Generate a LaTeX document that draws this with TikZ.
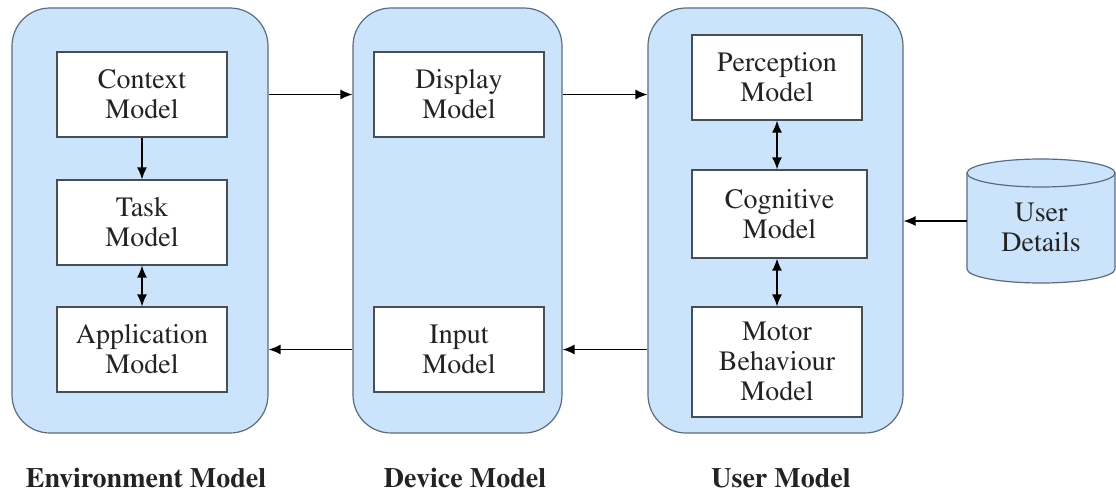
\documentclass[tikz,border=0pt]{standalone}
\usepackage[T1]{fontenc}
\usepackage{mathptmx}
\usetikzlibrary{arrows.meta}

\definecolor{panelblue}{RGB}{204,228,251}
\definecolor{paneledge}{RGB}{92,108,128}
\definecolor{boxedge}{RGB}{70,78,88}
\definecolor{inkgray}{RGB}{35,35,35}

\tikzset{
  panel/.style={draw=paneledge, line width=1.2pt, fill=panelblue,
    rounded corners=38pt, minimum height=425pt, inner sep=0pt},
  modelbox/.style={draw=boxedge, line width=1.2pt, fill=white,
    minimum width=170pt, minimum height=85pt, inner sep=0pt,
    align=center, text=inkgray, font=\rmfamily\fontsize{28}{30}\selectfont},
  caption/.style={font=\rmfamily\bfseries\fontsize{28}{30}\selectfont, text=inkgray,
    inner sep=0pt},
  arr/.style={line width=1.4pt, draw=black, -{Latex[length=12pt,width=10pt]}},
  biarr/.style={line width=1.4pt, draw=black,
    {Latex[length=12pt,width=10pt]}-{Latex[length=12pt,width=10pt]}},
}

\begin{document}
\begin{tikzpicture}[x=1pt,y=1pt]
\useasboundingbox (0,0) rectangle (1116,-496);

% three rounded panels
\node[panel, minimum width=256pt] (env) at (140,-220.5) {};
\node[panel, minimum width=209pt] (dev) at (457.5,-220.5) {};
\node[panel, minimum width=255pt] (usr) at (775.5,-220.5) {};

% environment model
\node[modelbox] (ctx)  at (142,-94.5)  {Context\\Model};
\node[modelbox] (task) at (142,-222.5) {Task\\Model};
\node[modelbox] (app)  at (142,-349.5) {Application\\Model};

% device model
\node[modelbox] (disp) at (459,-94.5)  {Display\\Model};
\node[modelbox] (inp)  at (459,-349.5) {Input\\Model};

% user model
\node[modelbox] (perc)  at (777,-77.5) {Perception\\Model};
\node[modelbox, minimum width=175pt, minimum height=88pt] (cog) at (779.5,-214) {Cognitive\\Model};
\node[modelbox, minimum height=110pt] (motor) at (777,-362) {Motor\\Behaviour\\Model};

% user details store (cylinder)
\node[minimum width=148pt, minimum height=124pt, inner sep=0pt]
      (ud) at (1041,-221) {};
\filldraw[draw=paneledge, line width=1.2pt, fill=panelblue]
  (967,-173) -- (967,-269)
  arc[start angle=180, end angle=360, x radius=74, y radius=14]
  -- (1115,-173) -- cycle;
\filldraw[draw=paneledge, line width=1.2pt, fill=panelblue]
  (1041,-173) ellipse[x radius=74, y radius=14];
\node[align=center, text=inkgray, font=\rmfamily\fontsize{28}{30}\selectfont]
  (udtext) at (1041,-228) {User\\Details};

% captions
\node[caption] (envcap) at (146,-478) {Environment Model};
\node[caption] (devcap) at (465,-478) {Device Model};
\node[caption] (usrcap) at (781,-478) {User Model};

% connectors inside panels
\draw[arr]   (ctx.south) -- (task.north);
\draw[biarr] (task.south) -- (app.north);
\draw[biarr] (perc.south) -- (perc.south |- cog.north);
\draw[biarr] (perc.south |- cog.south) -- (perc.south |- motor.north);

% connectors between panels
\draw[arr] (env.east |- ctx) -- (dev.west |- ctx);
\draw[arr] (dev.east |- disp) -- (usr.west |- disp);
\draw[arr] (usr.west |- inp) -- (dev.east |- inp);
\draw[arr] (dev.west |- app) -- (env.east |- app);
\draw[arr] (ud.west) -- (usr.east |- ud.west);
\end{tikzpicture}
\end{document}
